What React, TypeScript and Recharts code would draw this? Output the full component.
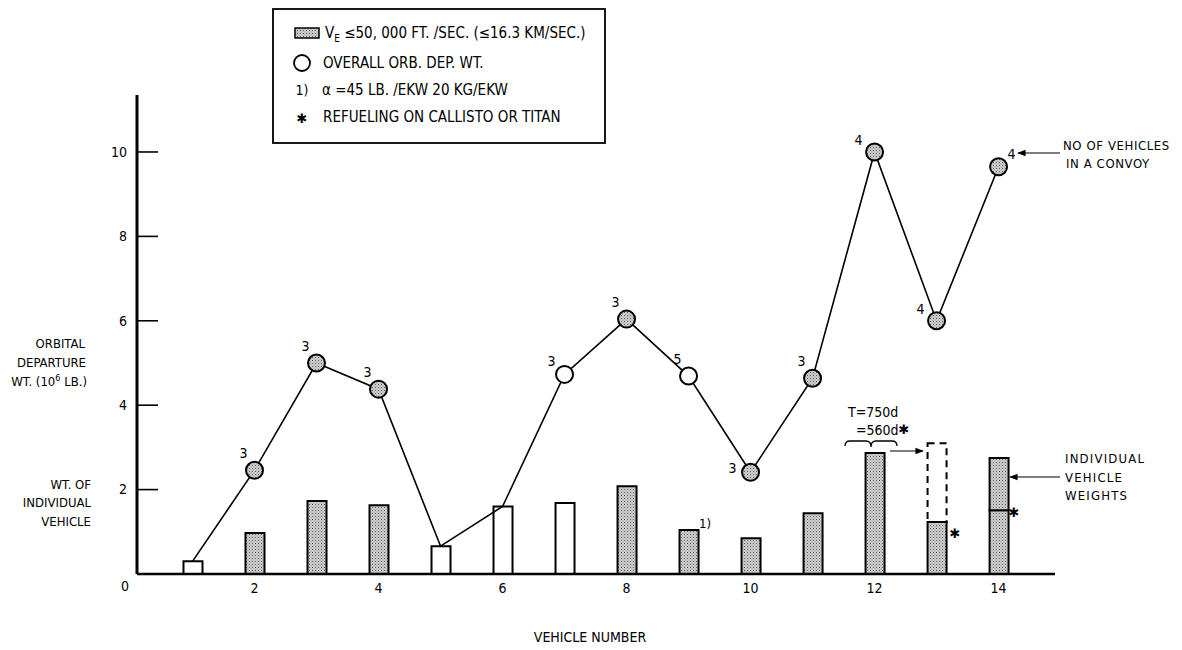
import React from "react";
import {
  Bar,
  Cell,
  ComposedChart,
  Line,
  XAxis,
  YAxis,
} from "recharts";

const FONT = "'Liberation Sans Narrow', 'DejaVu Sans Condensed', 'Arial Narrow', sans-serif";

// vehicle number 1..14
const VEHICLES = [1, 2, 3, 4, 5, 6, 7, 8, 9, 10, 11, 12, 13, 14];
// individual vehicle weight (10^6 lb), lower part of each bar
const BASE_WT = [0.3, 0.97, 1.73, 1.63, 0.66, 1.6, 1.68, 2.08, 1.04, 0.85, 1.44, 2.87, 1.23, 1.51];
// upper part of vehicle 14 (refueled split)
const UPPER_WT = [null, null, null, null, null, null, null, null, null, null, null, null, null, 1.24];
// dashed outline above vehicle 13 (T=750d weight)
const DASHED_WT = [null, null, null, null, null, null, null, null, null, null, null, null, 1.87, null];
// true = V_E <= 50,000 ft/sec (stippled)
const SHADED = [false, true, true, true, false, false, false, true, true, true, true, true, true, true];
// overall orbital departure weight (10^6 lb)
const OVERALL = [0.3, 2.46, 5.0, 4.38, 0.66, 1.6, 4.73, 6.04, 4.69, 2.41, 4.64, 10.0, 6.0, 9.65];
// marker kind at each point
const MARKER = [null, "shaded", "shaded", "shaded", null, null, "open", "shaded", "open", "shaded", "shaded", "shaded", "shaded", "shaded"];
// number of vehicles in a convoy
const CONVOY = [null, 3, 3, 3, null, null, 3, 3, 5, 3, 3, 4, 4, 4];

const X_TICKS = [2, 4, 6, 8, 10, 12, 14];
const Y_TICKS = [0, 2, 4, 6, 8, 10];

const rows = VEHICLES.map((v, i) => ({
  vehicle: v,
  base: BASE_WT[i],
  upper: UPPER_WT[i],
  dashed: DASHED_WT[i],
  shaded: SHADED[i],
  overall: OVERALL[i],
  marker: MARKER[i],
  convoy: CONVOY[i],
}));

function YTick(props: any) {
  const { x, y, payload } = props;
  const v = payload.value;
  if (v === 0) {
    return (
      <text x={x - 8} y={y + 12} dy="0.35em" textAnchor="end" fontSize={14} fontFamily={FONT} fill="#000">
        0
      </text>
    );
  }
  return (
    <g>
      <line x1={x} x2={x + 21} y1={y} y2={y} stroke="#000" strokeWidth={1.6} />
      <text x={x - 10} y={y} dy="0.35em" textAnchor="end" fontSize={14} fontFamily={FONT} fill="#000">
        {v}
      </text>
    </g>
  );
}

function renderDot(props: any) {
  const { cx, cy, index, payload } = props;
  if (!payload.marker) return <g key={`d${index}`} />;
  let dx = -11;
  let dy = -17;
  if (payload.vehicle === 10) {
    dx = -18;
    dy = -4;
  } else if (payload.vehicle === 13 || payload.vehicle === 12) {
    dx = -16;
    dy = -12;
  } else if (payload.vehicle === 14) {
    dx = 13;
    dy = -13;
  } else if (payload.vehicle === 7) {
    dx = -13;
    dy = -13;
  }
  return (
    <g key={`d${index}`}>
      <circle
        cx={cx}
        cy={cy}
        r={8.5}
        fill={payload.marker === "shaded" ? "url(#stipple)" : "#fff"}
        stroke="#000"
        strokeWidth={2}
      />
      <text x={cx + dx} y={cy + dy} dy="0.35em" textAnchor="middle" fontSize={14} fontFamily={FONT} fill="#000">
        {payload.convoy}
      </text>
    </g>
  );
}

const txt = { fontFamily: FONT, fill: "#000" } as const;

export default function App() {
  return (
    <div style={{ position: "absolute", left: 0, top: 0, width: 1182, height: 650, background: "#fff" }}>
      <svg width={0} height={0} style={{ position: "absolute" }}>
        <defs>
          <pattern id="stipple" width="3" height="3" patternUnits="userSpaceOnUse">
            <rect width="3" height="3" fill="#d0d0d0" />
            <rect x="0" y="0" width="1" height="1" fill="#555" />
            <rect x="1.5" y="1.5" width="1" height="1" fill="#888" />
          </pattern>
          <marker id="ah" viewBox="0 0 10 10" refX="9" refY="5" markerWidth="7" markerHeight="7" orient="auto-start-reverse">
            <path d="M0,1 L10,5 L0,9 z" fill="#000" />
          </marker>
        </defs>
      </svg>

      <div style={{ position: "absolute", left: 0, top: 0 }}>
        <ComposedChart
          width={1182}
          height={650}
          data={rows}
          margin={{ top: 95, right: 127, bottom: 46, left: 97 }}
        >
          <XAxis
            dataKey="vehicle"
            type="number"
            domain={[0.105, 14.91]}
            ticks={X_TICKS}
            allowDataOverflow
            height={30}
            tickLine={false}
            tickSize={0}
            tickMargin={9}
            axisLine={{ stroke: "#000", strokeWidth: 2.5 }}
            tick={{ fontSize: 14, fontFamily: FONT, fill: "#000" }}
          />
          <YAxis
            type="number"
            domain={[0, 11.35]}
            ticks={Y_TICKS}
            allowDataOverflow
            width={40}
            tickLine={false}
            tickSize={0}
            tickMargin={0}
            axisLine={{ stroke: "#000", strokeWidth: 3 }}
            tick={<YTick />}
          />
          <Bar dataKey="base" stackId="w" barSize={19} stroke="#000" strokeWidth={2} isAnimationActive={false}>
            {rows.map((r, i) => (
              <Cell key={i} fill={r.shaded ? "url(#stipple)" : "#fff"} />
            ))}
          </Bar>
          <Bar dataKey="upper" stackId="w" barSize={19} fill="url(#stipple)" stroke="#000" strokeWidth={2} isAnimationActive={false} />
          <Bar dataKey="dashed" stackId="w" barSize={19} fill="none" stroke="#000" strokeWidth={2} strokeDasharray="7 5" isAnimationActive={false} />
          <Line
            type="linear"
            dataKey="overall"
            stroke="#000"
            strokeWidth={1.6}
            dot={renderDot}
            activeDot={false}
            isAnimationActive={false}
          />
        </ComposedChart>
      </div>

      <svg width={1182} height={650} style={{ position: "absolute", left: 0, top: 0, pointerEvents: "none" }}>
        {/* legend */}
        <rect x={273} y={9} width={332} height={134} fill="none" stroke="#000" strokeWidth={1.8} />
        <rect x={295} y={28} width={24} height={10} fill="url(#stipple)" stroke="#000" strokeWidth={1.5} />
        <text x={325} y={33} dy="0.35em" fontSize={15} {...txt}>
          V<tspan fontSize={10} dy={4}>E</tspan>
          <tspan dy={-4}> ≤50, 000 FT. /SEC. (≤16.3 KM/SEC.)</tspan>
        </text>
        <circle cx={302} cy={63} r={8} fill="#fff" stroke="#000" strokeWidth={1.8} />
        <text x={323} y={63} dy="0.35em" fontSize={15} {...txt}>OVERALL ORB. DEP. WT.</text>
        <text x={302} y={90} dy="0.35em" fontSize={14} textAnchor="middle" {...txt}>1)</text>
        <text x={322} y={90} dy="0.35em" fontSize={15} {...txt}>α =45 LB. /EKW 20 KG/EKW</text>
        <text x={302} y={118} dy="0.35em" fontSize={13} textAnchor="middle" fontFamily="DejaVu Sans" fill="#000">✱</text>
        <text x={323} y={117} dy="0.35em" fontSize={15} {...txt}>REFUELING ON CALLISTO OR TITAN</text>

        {/* y-axis titles */}
        <g textAnchor="end" fontSize={13} {...txt}>
          <text x={85} y={343} dy="0.35em">ORBITAL</text>
          <text x={86} y={362} dy="0.35em">DEPARTURE</text>
          <text x={87} y={381} dy="0.35em">
            WT. (10<tspan fontSize={9} dy={-5}>6</tspan>
            <tspan dy={5}> LB.)</tspan>
          </text>
          <text x={91} y={484} dy="0.35em">WT. OF</text>
          <text x={91} y={502} dy="0.35em">INDIVIDUAL</text>
          <text x={91} y={521} dy="0.35em">VEHICLE</text>
        </g>

        {/* x-axis title */}
        <text x={590} y={637} dy="0.35em" textAnchor="middle" fontSize={14} {...txt}>VEHICLE NUMBER</text>

        {/* right annotations */}
        <line x1={1060} y1={153} x2={1018} y2={153} stroke="#000" strokeWidth={1.2} markerEnd="url(#ah)" />
        <text x={1063} y={145} dy="0.35em" fontSize={13} letterSpacing={0.6} {...txt}>NO OF VEHICLES</text>
        <text x={1066} y={163} dy="0.35em" fontSize={13} letterSpacing={0.6} {...txt}>IN A CONVOY</text>

        <line x1={1060} y1={477} x2={1010} y2={477} stroke="#000" strokeWidth={1.2} markerEnd="url(#ah)" />
        <text x={1065} y={458} dy="0.35em" fontSize={13} letterSpacing={1.2} {...txt}>INDIVIDUAL</text>
        <text x={1065} y={477} dy="0.35em" fontSize={13} letterSpacing={1.2} {...txt}>VEHICLE</text>
        <text x={1065} y={495} dy="0.35em" fontSize={13} letterSpacing={1.2} {...txt}>WEIGHTS</text>

        <text x={1014} y={512} dy="0.35em" fontSize={13} textAnchor="middle" fontFamily="DejaVu Sans" fill="#000">✱</text>
        <text x={955} y={533} dy="0.35em" fontSize={13} textAnchor="middle" fontFamily="DejaVu Sans" fill="#000">✱</text>
        <text x={705} y={523} dy="0.35em" fontSize={13} textAnchor="middle" {...txt}>1)</text>

        {/* bar 12 note */}
        <text x={848} y={412} dy="0.35em" fontSize={14} {...txt}>T=750d</text>
        <text x={856} y={430} dy="0.35em" fontSize={14} {...txt}>=560d</text>
        <text x={904} y={429} dy="0.35em" fontSize={13} textAnchor="middle" fontFamily="DejaVu Sans" fill="#000">✱</text>
        <path
          d="M845,446 Q845,441 850,441 L866,441 Q871,441 871,447 Q871,441 876,441 L892,441 Q897,441 897,446"
          fill="none"
          stroke="#000"
          strokeWidth={1.3}
        />
        <line x1={890} y1={451} x2={923} y2={451} stroke="#000" strokeWidth={1.2} markerEnd="url(#ah)" />
      </svg>
    </div>
  );
}
